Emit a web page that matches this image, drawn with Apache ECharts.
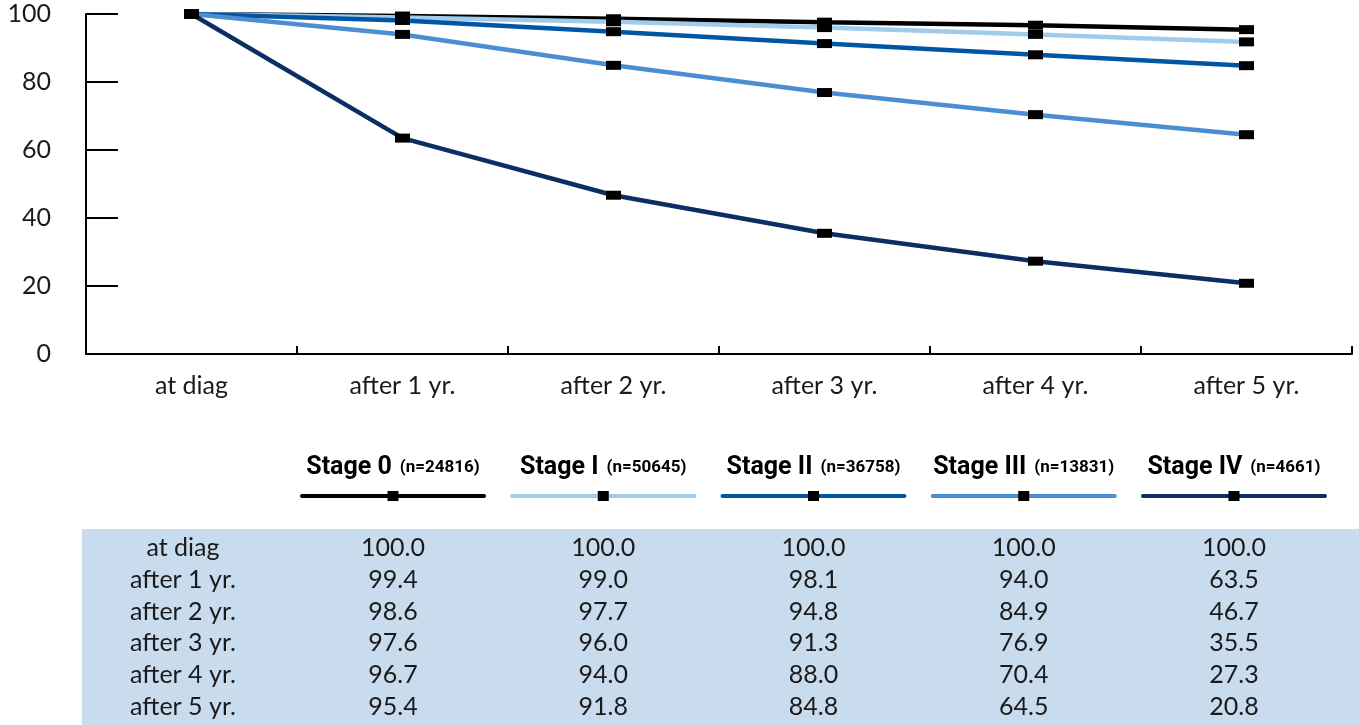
<!DOCTYPE html>
<html>
<head>
<meta charset="utf-8">
<script src="https://cdn.jsdelivr.net/npm/echarts@6/dist/echarts.min.js"></script>
<style>
  html, body { margin: 0; padding: 0; background: #fff; }
  #chart { width: 1359px; height: 725px; }
</style>
</head>
<body>
<div id="chart"></div>
<script>
// Survival over time after diagnosis, by stage (percent)
const categories = ['at diag', 'after 1 yr.', 'after 2 yr.', 'after 3 yr.', 'after 4 yr.', 'after 5 yr.'];
const stageNames = ['Stage 0', 'Stage I', 'Stage II', 'Stage III', 'Stage IV'];
const stageCounts = ['(n=24816)', '(n=50645)', '(n=36758)', '(n=13831)', '(n=4661)'];
const stage0 = [100.0, 99.4, 98.6, 97.6, 96.7, 95.4];
const stage1 = [100.0, 99.0, 97.7, 96.0, 94.0, 91.8];
const stage2 = [100.0, 98.1, 94.8, 91.3, 88.0, 84.8];
const stage3 = [100.0, 94.0, 84.9, 76.9, 70.4, 64.5];
const stage4 = [100.0, 63.5, 46.7, 35.5, 27.3, 20.8];
const yTicks = [0, 20, 40, 60, 80, 100];

const stageValues = [stage0, stage1, stage2, stage3, stage4];
const stageColors = ['#000000', '#9fcbec', '#0055a5', '#4b8fd1', '#0b2f63'];

const FONT = 'Lato, "Open Sans", sans-serif';
const BOLD_FONT = 'Roboto, "Noto Sans", sans-serif';
const TEXT = '#1a1a1a';
const FS = 25;

const chart = echarts.init(document.getElementById('chart'), null, { renderer: 'canvas' });

// line series (no symbols) plus marker series drawn on top of every line
const series = [];
stageValues.forEach((vals, i) => {
  series.push({
    name: stageNames[i],
    type: 'line',
    data: vals,
    showSymbol: false,
    lineStyle: { color: stageColors[i], width: 4.5 },
    itemStyle: { color: stageColors[i] },
    z: 2 + i * 0.01,
    silent: true,
    animation: false
  });
});
stageValues.forEach((vals, i) => {
  series.push({
    name: stageNames[i] + ' markers',
    type: 'scatter',
    data: vals,
    symbol: 'rect',
    symbolSize: [15, 9],
    itemStyle: { color: '#000', opacity: 1 },
    z: 5,
    silent: true,
    animation: false
  });
});

// legend and data table built as graphic elements
const graphics = [];
const colX = stageNames.map((_, i) => 393 + 210.25 * i);
const legendTextY = 468;
const legendLineY = 496;
stageNames.forEach((name, i) => {
  const cx = colX[i];
  graphics.push({
    type: 'text',
    x: cx, y: legendTextY,
    style: {
      text: '{b|' + name + '}{s|' + stageCounts[i] + '}',
      align: 'center', verticalAlign: 'middle',
      rich: {
        b: { fontFamily: BOLD_FONT, fontWeight: 'bold', fontSize: 25, fill: '#000' },
        s: { fontFamily: BOLD_FONT, fontWeight: 'bold', fontSize: 17, fill: '#000', padding: [0, 0, 0, 8] }
      }
    }
  });
  graphics.push({
    type: 'line',
    shape: { x1: cx - 91, y1: legendLineY, x2: cx + 91, y2: legendLineY },
    style: { stroke: stageColors[i], lineWidth: 4, lineCap: 'round' }
  });
  graphics.push({
    type: 'rect',
    shape: { x: cx - 5.5, y: legendLineY - 5, width: 11, height: 10 },
    style: { fill: '#000' }
  });
});

const tableTop = 529;
const rowH = 31.8;
const firstRowY = 548;
graphics.push({
  type: 'rect',
  shape: { x: 82, y: tableTop, width: 1359 - 82, height: 725 - tableTop },
  style: { fill: '#c9dcee' },
  z: -1
});
categories.forEach((cat, r) => {
  const y = firstRowY + rowH * r;
  graphics.push({
    type: 'text', x: 183, y: y,
    style: { text: cat, align: 'center', verticalAlign: 'middle', fontFamily: FONT, fontSize: FS, fill: TEXT }
  });
  stageValues.forEach((vals, i) => {
    graphics.push({
      type: 'text', x: colX[i], y: y,
      style: { text: vals[r].toFixed(1), align: 'center', verticalAlign: 'middle', fontFamily: FONT, fontSize: FS, fill: TEXT }
    });
  });
});

chart.setOption({
  animation: false,
  backgroundColor: '#fff',
  grid: { left: 86, top: 14, width: 1266, height: 340, containLabel: false },
  xAxis: {
    type: 'category',
    data: categories,
    boundaryGap: true,
    axisLine: { lineStyle: { color: '#000', width: 2 } },
    axisTick: { show: true, inside: true, length: 8, interval: 0, lineStyle: { color: '#000', width: 2 } },
    axisLabel: { fontFamily: FONT, fontSize: FS, color: TEXT, margin: 19 },
    splitLine: { show: false }
  },
  yAxis: {
    type: 'value',
    min: yTicks[0],
    max: yTicks[yTicks.length - 1],
    interval: 20,
    axisLine: { show: true, lineStyle: { color: '#000', width: 2 } },
    axisTick: { show: true, inside: true, length: 32, lineStyle: { color: '#000', width: 2 } },
    axisLabel: { fontFamily: FONT, fontSize: FS, color: TEXT, margin: 35 },
    splitLine: { show: false }
  },
  series: series,
  graphic: graphics
});
</script>
</body>
</html>
